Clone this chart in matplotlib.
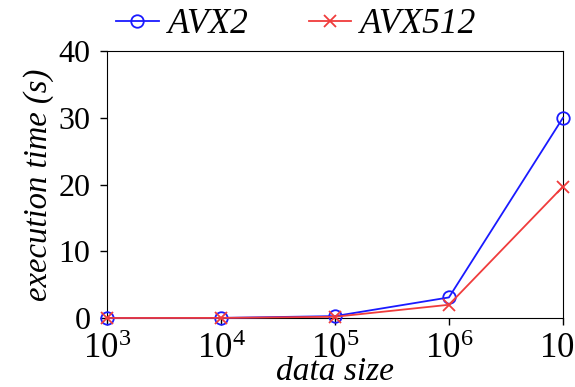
import matplotlib
matplotlib.use("Agg")
import matplotlib.pyplot as plt

data_size = [1e3, 1e4, 1e5, 1e6, 1e7]
avx2 = [0.02, 0.03, 0.3, 3.1, 30.0]
avx512 = [0.02, 0.03, 0.2, 2.0, 19.7]
labels = ["AVX2", "AVX512"]
xticks = [1e3, 1e4, 1e5, 1e6, 1e7]
xticklabels = [r'$\mathdefault{10^{3}}$', r'$\mathdefault{10^{4}}$', r'$\mathdefault{10^{5}}$',
               r'$\mathdefault{10^{6}}$', r'$\mathdefault{10^{7}}$']

plt.rcParams['font.family'] = ['Liberation Serif', 'DejaVu Serif']
plt.rcParams['mathtext.fontset'] = 'custom'
plt.rcParams['mathtext.rm'] = 'Liberation Serif'
plt.rcParams['mathtext.it'] = 'Liberation Serif:italic'

fig = plt.figure(figsize=(5.75, 3.87), dpi=100)
ax = fig.add_axes([0.186, 0.178, 0.793, 0.690])

ax.plot(data_size, avx2, color='#1a1aff', lw=1.3, marker='o', ms=9,
        mfc='none', mec='#1a1aff', mew=1.3, label=labels[0], clip_on=False, zorder=3)
ax.plot(data_size, avx512, color='#f03c3c', lw=1.3, marker='x', ms=9,
        mec='#f03c3c', mew=1.3, label=labels[1], clip_on=False, zorder=3)

ax.set_xscale('log')
ax.set_xlim(1e3, 1e7)
ax.set_xticks(xticks)
ax.set_xticklabels(xticklabels)
ax.set_ylim(0, 40)
ax.set_yticks([0, 10, 20, 30, 40])
ax.tick_params(axis='y', labelsize=23, direction='out', length=5, width=1, pad=7)
ax.tick_params(axis='x', which='major', labelsize=25, direction='out', length=5, width=1, pad=6)
ax.tick_params(axis='x', which='minor', direction='out', length=3, width=0.8)

ax.set_xlabel('data size', fontsize=24, style='italic', labelpad=-7)
ax.set_ylabel('execution time (s)', fontsize=23.5, style='italic', labelpad=3)

ax.legend(loc='lower center', bbox_to_anchor=(0.415, 0.985), ncol=2, frameon=False,
          prop={'size': 25.5, 'style': 'italic'}, handlelength=1.2, handletextpad=0.25,
          columnspacing=1.7, borderaxespad=0)

fig.savefig('out.png', dpi=100)
